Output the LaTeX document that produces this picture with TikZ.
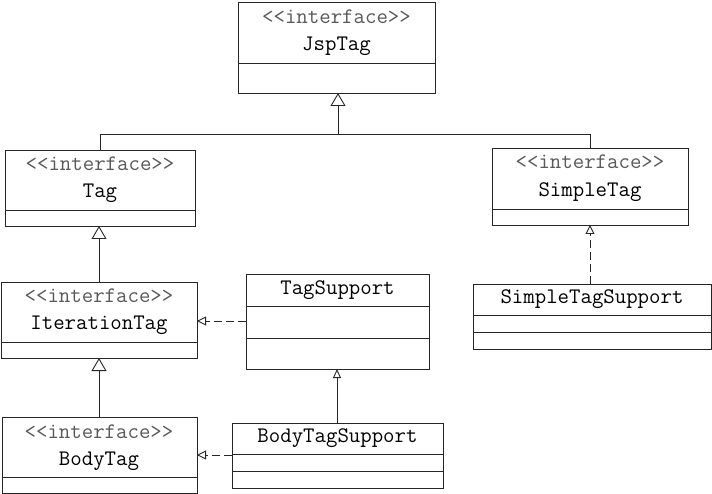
\documentclass[tikz,border=0pt]{standalone}
\usepackage{fontspec}
\usetikzlibrary{arrows.meta}
\begin{document}
\begin{tikzpicture}[x=1pt,y=-1pt,
  every node/.style={inner sep=0pt,outer sep=0pt},
  classbox/.style={draw=black!85,line width=0.9pt,anchor=north west,fill=white},
  stereo/.style={font=\ttfamily\fontsize{22.2}{22}\selectfont,text=black!65},
  cname/.style={font=\ttfamily\fontsize{22.2}{22}\selectfont,text=black},
  sep/.style={draw=black!85,line width=0.9pt},
  inherit/.style={draw=black!85,line width=0.9pt,-{Triangle[open,length=13pt,width=15pt]}},
  smallinherit/.style={draw=black!85,line width=0.9pt,-{Triangle[open,length=9pt,width=8pt]}},
  realize/.style={draw=black!85,line width=0.9pt,dash pattern=on 8pt off 4pt,-{Triangle[open,length=9pt,width=9pt,line width=0.9pt]}},
  wire/.style={draw=black!85,line width=0.9pt}]
\useasboundingbox (0,0) rectangle (712,494);
\fill[white] (0,0) rectangle (712,494);

% JspTag
\node[classbox,minimum width=197pt,minimum height=91pt] (jsptag) at (238,2) {};
\node[stereo] (jsptagS) at (336.5,17) {<<interface>>};
\node[cname] (jsptagN) at (336.5,46) {JspTag};
\draw[sep] (238,63) -- (435,63);

% Tag
\node[classbox,minimum width=190pt,minimum height=76pt] (tag) at (5,150) {};
\node[stereo] (tagS) at (100,164) {<<interface>>};
\node[cname] (tagN) at (100,193) {Tag};
\draw[sep] (5,210) -- (195,210);

% SimpleTag
\node[classbox,minimum width=196pt,minimum height=77pt] (simpletag) at (492,148) {};
\node[stereo] (simpletagS) at (590,162) {<<interface>>};
\node[cname] (simpletagN) at (590,192) {SimpleTag};
\draw[sep] (492,209) -- (688,209);

% IterationTag
\node[classbox,minimum width=196pt,minimum height=76pt] (itertag) at (1,282) {};
\node[stereo] (itertagS) at (99,296) {<<interface>>};
\node[cname] (itertagN) at (99,325) {IterationTag};
\draw[sep] (1,342) -- (197,342);

% BodyTag
\node[classbox,minimum width=195pt,minimum height=76pt] (bodytag) at (2,417) {};
\node[stereo] (bodytagS) at (99,432) {<<interface>>};
\node[cname] (bodytagN) at (99,461) {BodyTag};
\draw[sep] (2,477) -- (197,477);

% TagSupport
\node[classbox,minimum width=183pt,minimum height=95pt] (tagsupport) at (246,274) {};
\node[cname] (tagsupportN) at (337.5,290) {TagSupport};
\draw[sep] (246,306) -- (429,306);
\draw[sep] (246,338) -- (429,338);

% BodyTagSupport
\node[classbox,minimum width=211pt,minimum height=65pt] (bodytagsupport) at (232,423) {};
\node[cname] (bodytagsupportN) at (337.5,438) {BodyTagSupport};
\draw[sep] (232,454) -- (443,454);
\draw[sep] (232,471) -- (443,471);

% SimpleTagSupport
\node[classbox,minimum width=238pt,minimum height=65pt] (simpletagsupport) at (473,284) {};
\node[cname] (simpletagsupportN) at (592,299) {SimpleTagSupport};
\draw[sep] (473,315) -- (711,315);
\draw[sep] (473,332) -- (711,332);

% generalization tree under JspTag
\coordinate (bus) at (338,134);
\coordinate (busL) at (100,134);
\coordinate (busR) at (590,134);
\draw[wire] (tag.north -| busL) -- (busL) -- (busR) -- (simpletag.north -| busR);
\draw[inherit] (bus) -- (jsptag.south -| bus);

% interface inheritance chain
\draw[inherit] (itertag.north -| 99,0) -- (tag.south -| 99,0);
\draw[inherit] (bodytag.north -| 99,0) -- (itertag.south -| 99,0);

% class inheritance
\draw[smallinherit] (bodytagsupport.north -| 337,0) -- (tagsupport.south -| 337,0);

% realizations
\draw[realize] (tagsupport.west |- 0,321) -- (itertag.east |- 0,321);
\draw[realize] (bodytagsupport.west |- 0,455) -- (bodytag.east |- 0,455);
\draw[realize] (simpletagsupport.north -| 590,0) -- (simpletag.south -| 590,0);
\end{tikzpicture}
\end{document}
